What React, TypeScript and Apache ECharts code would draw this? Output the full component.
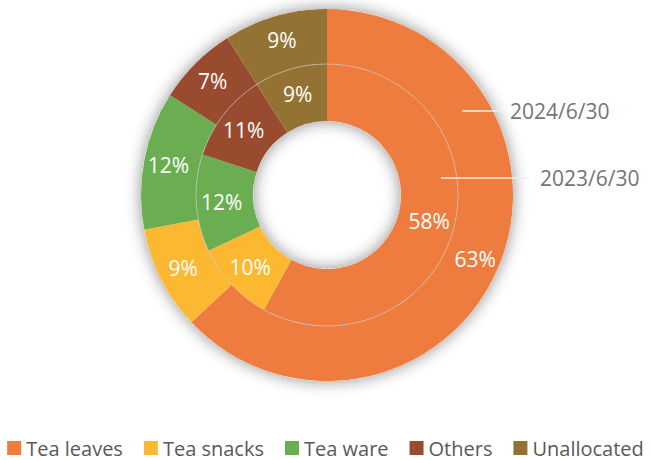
import React, { useEffect, useRef } from 'react';
import * as echarts from 'echarts';

const categories = ['Tea leaves', 'Tea snacks', 'Tea ware', 'Others', 'Unallocated'];
const colors = ['#EE7C3E', '#FCB830', '#6BAE52', '#984B2E', '#947233'];
const values2024 = [63, 9, 12, 7, 9];
const values2023 = [58, 10, 12, 11, 9];
const periodLabels = ['2024/6/30', '2023/6/30'];

const FONT = '"Open Sans", "Noto Sans", sans-serif';

export default function App() {
  const ref = useRef<HTMLDivElement>(null);
  useEffect(() => {
    if (!ref.current) return;
    const chart = echarts.init(ref.current, null, { renderer: 'svg' });
    const cx = 327;
    const cy = 195;
    const rHole = 74;
    const rMid = 131;
    const rOut = 186;
    const label = {
      show: true,
      position: 'inside',
      formatter: '{c}%',
      color: '#ffffff',
      fontSize: 21,
      fontFamily: FONT,
    };
    const mk = (vals: number[]) =>
      vals.map((v, i) => ({ name: categories[i], value: v, itemStyle: { color: colors[i] } }));
    chart.setOption({
      animation: false,
      color: colors,
      legend: {
        data: categories,
        left: 'center',
        top: 437,
        padding: 0,
        icon: 'rect',
        itemWidth: 14,
        itemHeight: 14,
        itemGap: 21,
        textStyle: { color: '#595959', fontSize: 20, fontFamily: FONT, lineHeight: 22 },
      },
      series: [
        {
          type: 'pie',
          name: periodLabels[1],
          center: [cx, cy],
          radius: [rHole, rMid],
          startAngle: 90,
          label,
          labelLine: { show: false },
          data: mk(values2023),
          z: 2,
        },
        {
          type: 'pie',
          name: periodLabels[0],
          center: [cx, cy],
          radius: [rMid, rOut],
          startAngle: 90,
          label,
          labelLine: { show: false },
          data: mk(values2024),
          z: 2,
        },
      ],
      graphic: [
        {
          type: 'ring',
          silent: true,
          z: -10,
          shape: { cx, cy, r: rOut, r0: rHole },
          style: { fill: '#ffffff', shadowBlur: 16, shadowColor: 'rgba(0,0,0,0.45)', shadowOffsetX: 0, shadowOffsetY: 0 },
        },
        {
          type: 'circle',
          silent: true,
          z: 100,
          shape: { cx, cy, r: rMid },
          style: { fill: 'none', stroke: 'rgba(200,200,200,0.6)', lineWidth: 1 },
        },
        {
          type: 'line',
          silent: true,
          z: 100,
          shape: { x1: 462, y1: 111, x2: 502, y2: 111 },
          style: { stroke: '#EDEDED', lineWidth: 1.5 },
        },
        {
          type: 'text',
          silent: true,
          z: 100,
          x: 510,
          y: 111,
          style: { text: periodLabels[0], fill: '#757575', fontSize: 21, fontFamily: FONT, verticalAlign: 'middle' },
        },
        {
          type: 'line',
          silent: true,
          z: 100,
          shape: { x1: 441, y1: 178, x2: 529, y2: 178 },
          style: { stroke: '#EDEDED', lineWidth: 1.5 },
        },
        {
          type: 'text',
          silent: true,
          z: 100,
          x: 540,
          y: 178,
          style: { text: periodLabels[1], fill: '#757575', fontSize: 21, fontFamily: FONT, verticalAlign: 'middle' },
        },
      ],
    });
    return () => chart.dispose();
  }, []);
  return (
    <div
      ref={ref}
      style={{ position: 'fixed', left: 0, top: 0, width: 651, height: 460, background: '#ffffff' }}
    />
  );
}
